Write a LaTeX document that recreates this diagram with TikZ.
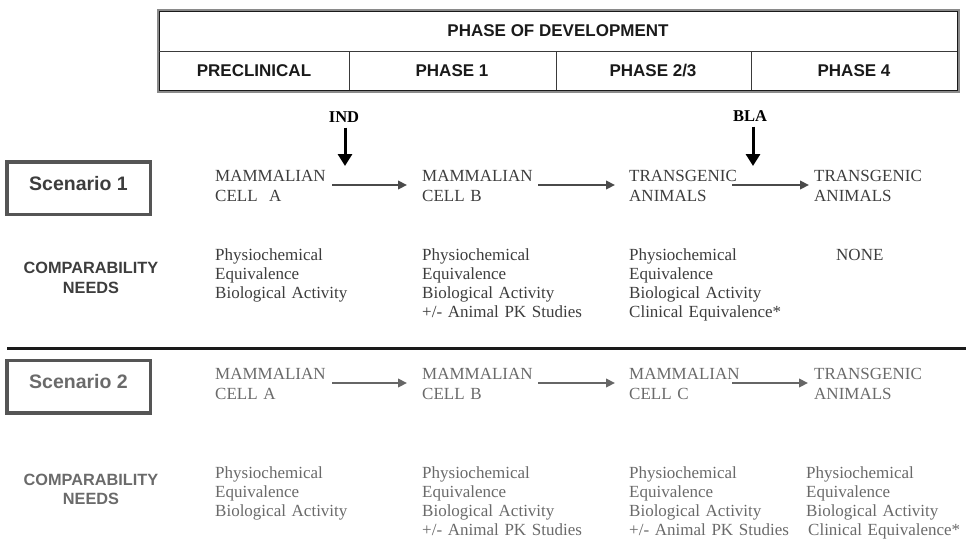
\documentclass[tikz,border=0pt]{standalone}
\usepackage{fontspec}
\setmainfont{Liberation Serif}
\setsansfont{Liberation Sans}
\usetikzlibrary{arrows.meta}
\definecolor{hdrink}{HTML}{1A1A1A}
\definecolor{tblgray}{HTML}{8A8A8A}
\definecolor{gridink}{HTML}{3A3A3A}
\definecolor{inkA}{HTML}{3D3D3D}
\definecolor{inkB}{HTML}{6A6A6A}
\definecolor{boxgray}{HTML}{555555}
\definecolor{arrA}{HTML}{4A4A4A}
\definecolor{arrB}{HTML}{666666}
\begin{document}
\begin{tikzpicture}[x=1pt,y=-1pt,
  hdr/.style={font=\sffamily\bfseries\fontsize{17}{20}\selectfont, text=hdrink, inner sep=0pt},
  scen/.style={draw=boxgray, line width=3.5pt, minimum width=143.5pt, minimum height=52.5pt,
     inner sep=0pt, font=\sffamily\bfseries\fontsize{19.5}{22}\selectfont, text height=14pt, text depth=10pt},
  need/.style={font=\sffamily\bfseries\fontsize{16.3}{20}\selectfont, align=center, text width=170pt,
     inner sep=0pt, anchor=base},
  blk/.style={font=\fontsize{17}{20}\selectfont, align=left, text width=200pt, inner sep=0pt, anchor=base west},
  blkn/.style={font=\fontsize{17}{19}\selectfont, align=left, text width=200pt, inner sep=0pt, anchor=base west},
  mile/.style={font=\bfseries\fontsize{16.5}{18}\selectfont, text=black, inner sep=0pt},
  milearrow/.style={line width=3pt, draw=black, -{Triangle[length=12pt,width=14pt]}},
  flowA/.style={line width=2.8pt, draw=arrA, -{Triangle[length=9pt,width=8.5pt]}},
  flowB/.style={line width=2.8pt, draw=arrB, -{Triangle[length=9pt,width=8.5pt]}}
]
\useasboundingbox (0,0) rectangle (967,550);
% ---------- table ----------
\draw[tblgray, line width=2pt] (157.5,9.5) rectangle (958.5,91.5);
\draw[hdrink, line width=0.9pt] (159,11) rectangle (957,90);
\draw[gridink, line width=0.9pt] (159,51) -- (957,51);
\foreach \x in {349,556,751} \draw[gridink, line width=0.8pt] (\x,51) -- (\x,90);
\node[hdr] (pod) at (558,31) {PHASE OF DEVELOPMENT};
\node[hdr] (pre) at (254,71) {PRECLINICAL};
\node[hdr] (ph1) at (452,71) {PHASE 1};
\node[hdr] (ph23) at (653,71) {PHASE 2/3};
\node[hdr] (ph4) at (854,71) {PHASE 4};
% ---------- scenario 1 ----------
\node[scen, text=inkA] (sc1) at (78.5,188) {Scenario 1};
\node[need, text=inkA] (cn1) at (91,273) {COMPARABILITY\\NEEDS};
\node[mile] (ind) at (344,117) {IND};
\node[mile] (bla) at (750,116) {BLA};
\coordinate (indtip) at (345,166);
\coordinate (blatip) at (753,166);
\draw[milearrow] ([yshift=-5pt]ind.south -| indtip) -- (indtip);
\draw[milearrow] ([yshift=-5pt]bla.south -| blatip) -- (blatip);
\node[blk, text=inkA] (a1) at (215,181) {MAMMALIAN\\CELL\ \ A};
\node[blk, text=inkA] (a2) at (422,181) {MAMMALIAN\\CELL B};
\node[blk, text=inkA] (a3) at (629,181) {TRANSGENIC\\ANIMALS};
\node[blk, text=inkA] (a4) at (814,181) {TRANSGENIC\\ANIMALS};
\coordinate (f1s) at (332,185); \coordinate (f1e) at (407,185);
\coordinate (f2s) at (538,185); \coordinate (f2e) at (615,185);
\coordinate (f3s) at (732,185); \coordinate (f3e) at (809,185);
\draw[flowA] (f1s) -- (f1e);
\draw[flowA] (f2s) -- (f2e);
\draw[flowA] (f3s) -- (f3e);
\node[blkn, text=inkA] (n1) at (215,260) {Physiochemical\\Equivalence\\Biological Activity};
\node[blkn, text=inkA] (n2) at (422,260) {Physiochemical\\Equivalence\\Biological Activity\\+/- Animal PK Studies};
\node[blkn, text=inkA] (n3) at (629,260) {Physiochemical\\Equivalence\\Biological Activity\\Clinical Equivalence*};
\node[blkn, text=inkA] (n4) at (836,260) {NONE};
% ---------- separator ----------
\coordinate (sepL) at (7,348); \coordinate (sepR) at (966,348);
\draw[hdrink, line width=3pt] (sepL) -- (sepR);
% ---------- scenario 2 ----------
\node[scen, text=inkB] (sc2) at (78.5,386.5) {Scenario 2};
\node[need, text=inkB, font=\sffamily\bfseries\fontsize{16.3}{19}\selectfont] (cn2) at (91,485) {COMPARABILITY\\NEEDS};
\node[blk, text=inkB] (b1) at (215,379) {MAMMALIAN\\CELL A};
\node[blk, text=inkB] (b2) at (422,379) {MAMMALIAN\\CELL B};
\node[blk, text=inkB] (b3) at (629,379) {MAMMALIAN\\CELL C};
\node[blk, text=inkB] (b4) at (814,379) {TRANSGENIC\\ANIMALS};
\coordinate (g1s) at (332,383); \coordinate (g1e) at (407,383);
\coordinate (g2s) at (538,383); \coordinate (g2e) at (615,383);
\coordinate (g3s) at (732,383); \coordinate (g3e) at (808,383);
\draw[flowB] (g1s) -- (g1e);
\draw[flowB] (g2s) -- (g2e);
\draw[flowB] (g3s) -- (g3e);
\node[blkn, text=inkB] (m1) at (215,478) {Physiochemical\\Equivalence\\Biological Activity};
\node[blkn, text=inkB] (m2) at (422,478) {Physiochemical\\Equivalence\\Biological Activity\\+/- Animal PK Studies};
\node[blkn, text=inkB] (m3) at (629,478) {Physiochemical\\Equivalence\\Biological Activity\\+/- Animal PK Studies};
\node[blkn, text=inkB] (m4) at (806,478) {Physiochemical\\Equivalence\\Biological Activity\\\hspace*{2pt}Clinical Equivalence*};
\end{tikzpicture}
\end{document}
